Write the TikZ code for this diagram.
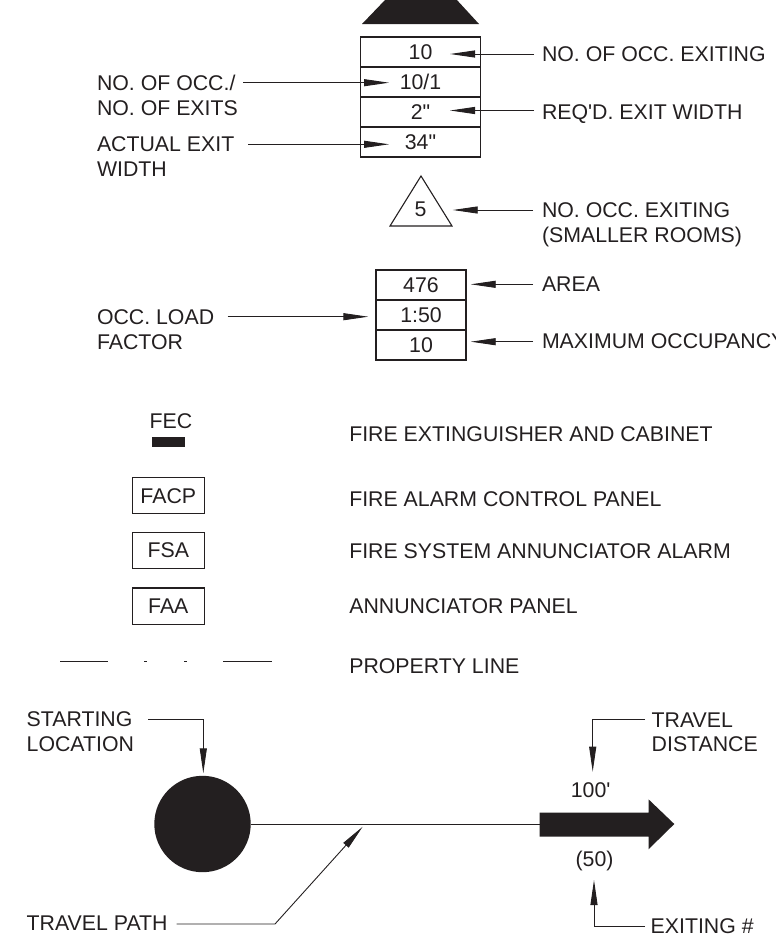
\documentclass[tikz,border=0pt]{standalone}
\usepackage{fontspec}
\setmainfont{Liberation Sans}
\usetikzlibrary{arrows.meta}
\definecolor{ink}{RGB}{35,31,32}
\begin{document}
\begin{tikzpicture}[x=1pt,y=-1pt,
  every node/.style={inner sep=0pt, outer sep=0pt, text=ink},
  txt/.style={font=\fontsize{21.3}{24.5}\selectfont},
  lbl/.style={txt, anchor=base west},
  ctr/.style={txt, text height=15.3pt, text depth=0pt},
  cell/.style={ctr, draw=ink, line width=1.1pt, minimum height=30pt},
  tag/.style={ctr, draw=ink, line width=1.1pt, minimum width=72pt, minimum height=36.4pt},
  lead/.style={draw=ink, line width=0.9pt, -{Triangle[length=25pt,width=7pt]}},
  plain/.style={draw=ink, line width=0.9pt},
  ]
\useasboundingbox (0,0) rectangle (776,945);

% top exit arrowhead (cut by the page edge)
\fill[ink] (362,24) -- (479,24) -- (456,-1) -- (386,-1) -- cycle;

% exit box stack
\node[cell, minimum width=120pt] (e1) at (420.5,52) {10};
\node[cell, minimum width=120pt] (e2) at (420.5,82) {10/1};
\node[cell, minimum width=120pt] (e3) at (420.5,112) {2\textquotedbl};
\node[cell, minimum width=120pt] (e4) at (420.5,142) {34\textquotedbl};

\node[lbl] (lExit) at (542,61.5) {NO. OF OCC. EXITING};
\node[lbl] (lReq) at (542,119) {REQ\textquotesingle D. EXIT WIDTH};
\node[lbl] (lNo1) at (97,90.5) {NO. OF OCC./};
\node[lbl] (lNo2) at (97,115) {NO. OF EXITS};
\node[lbl] (lAct1) at (97,151.5) {ACTUAL EXIT};
\node[lbl] (lAct2) at (97,176) {WIDTH};

\coordinate (aExitS) at (534,54);   \coordinate (aExitT) at (450,54);
\coordinate (aReqS) at (534,110.5); \coordinate (aReqT) at (450,110.5);
\coordinate (aNoS) at (243,82.7);   \coordinate (aNoT) at (389,82.7);
\coordinate (aActS) at (248,144.3); \coordinate (aActT) at (389,144.3);
\draw[lead] (aExitS) -- (aExitT);
\draw[lead] (aReqS) -- (aReqT);
\draw[lead] (aNoS) -- (aNoT);
\draw[lead] (aActS) -- (aActT);

% triangle
\draw[ink, line width=1.1pt, line join=miter] (390,226) -- (452,226) -- (421,176) -- cycle;
\node[ctr] (five) at (420.5,209) {5};
\node[lbl] (lSm1) at (542,217) {NO. OCC. EXITING};
\node[lbl] (lSm2) at (542,242) {(SMALLER ROOMS)};
\coordinate (aSmS) at (533,210); \coordinate (aSmT) at (452.7,210);
\draw[lead] (aSmS) -- (aSmT);

% occupancy box stack
\node[cell, minimum width=90pt] (o1) at (421,285) {476};
\node[cell, minimum width=90pt] (o2) at (421,315) {1:50};
\node[cell, minimum width=90pt] (o3) at (421,345) {10};
\node[lbl] (lArea) at (542,291.7) {AREA};
\node[lbl] (lMax) at (542,348.3) {MAXIMUM OCCUPANCY};
\node[lbl] (lOcc1) at (97,324.3) {OCC. LOAD};
\node[lbl] (lOcc2) at (97,349.3) {FACTOR};
\coordinate (aAreaS) at (533,284.3); \coordinate (aAreaT) at (470.7,284.3);
\coordinate (aMaxS) at (533,341.7);  \coordinate (aMaxT) at (470.7,341.7);
\coordinate (aOccS) at (227.7,316.7); \coordinate (aOccT) at (368.3,316.7);
\draw[lead] (aAreaS) -- (aAreaT);
\draw[lead] (aMaxS) -- (aMaxT);
\draw[lead] (aOccS) -- (aOccT);

% legend symbols
\node[ctr] (fec) at (171,421.2) {FEC};
\fill[ink] (152,437.3) rectangle (185,446.7);
\node[tag] (facp) at (168.3,495.5) {FACP};
\node[tag] (fsa) at (168.3,550.3) {FSA};
\node[tag] (faa) at (168.3,606.2) {FAA};
\draw[plain] (60,661.7) -- (108.3,661.7);
\draw[plain] (144,661.7) -- (147.3,661.7);
\draw[plain] (184,661.7) -- (187.3,661.7);
\draw[plain] (223.3,661.7) -- (271.7,661.7);

\node[lbl] (tFec) at (349.3,441.7) {FIRE EXTINGUISHER AND CABINET};
\node[lbl] (tFacp) at (349.3,506.7) {FIRE ALARM CONTROL PANEL};
\node[lbl] (tFsa) at (349.3,558.8) {FIRE SYSTEM ANNUNCIATOR ALARM};
\node[lbl] (tFaa) at (349.3,613) {ANNUNCIATOR PANEL};
\node[lbl] (tProp) at (349.3,673.6) {PROPERTY LINE};

% travel diagram
\node[circle, fill=ink, minimum size=96.4pt] (start) at (202.5,824) {};
\fill[ink] (539.5,812.7) -- (648.5,812.7) -- (648.5,799.3) -- (674.3,824)
  -- (648.5,849.3) -- (648.5,836.7) -- (539.5,836.7) -- cycle;
\coordinate (tail) at (539.5,824);
\draw[ink, line width=1pt] (start.east) -- (tail);

\node[txt, anchor=base] (dist) at (590.7,797.5) {100\textquotesingle};
\node[txt, anchor=base] (exn) at (594.5,866) {(50)};

\node[lbl] (lSt1) at (26.7,726.7) {STARTING};
\node[lbl] (lSt2) at (26.7,751.7) {LOCATION};
\node[lbl] (lTp) at (26.7,930) {TRAVEL PATH};
\node[lbl] (lTd1) at (651.7,727.3) {TRAVEL};
\node[lbl] (lTd2) at (651.7,751.7) {DISTANCE};
\node[lbl] (lEx) at (650.7,933) {EXITING \#};

\coordinate (sS) at (148.3,719); \coordinate (sC) at (203.3,719); \coordinate (sT) at (203.3,773.3);
\draw[lead] (sS) -- (sC) -- (sT);
\coordinate (pS) at (176.7,924); \coordinate (pC) at (275,924); \coordinate (pT) at (362.7,826.7);
\draw[lead] (pS) -- (pC) -- (pT);
\coordinate (dS) at (645,719.3); \coordinate (dC) at (592.7,719.3); \coordinate (dT) at (592.7,771.7);
\draw[lead] (dS) -- (dC) -- (dT);
\coordinate (xS) at (645,926); \coordinate (xC) at (594,926); \coordinate (xT) at (594,880);
\draw[lead] (xS) -- (xC) -- (xT);
\end{tikzpicture}
\end{document}
